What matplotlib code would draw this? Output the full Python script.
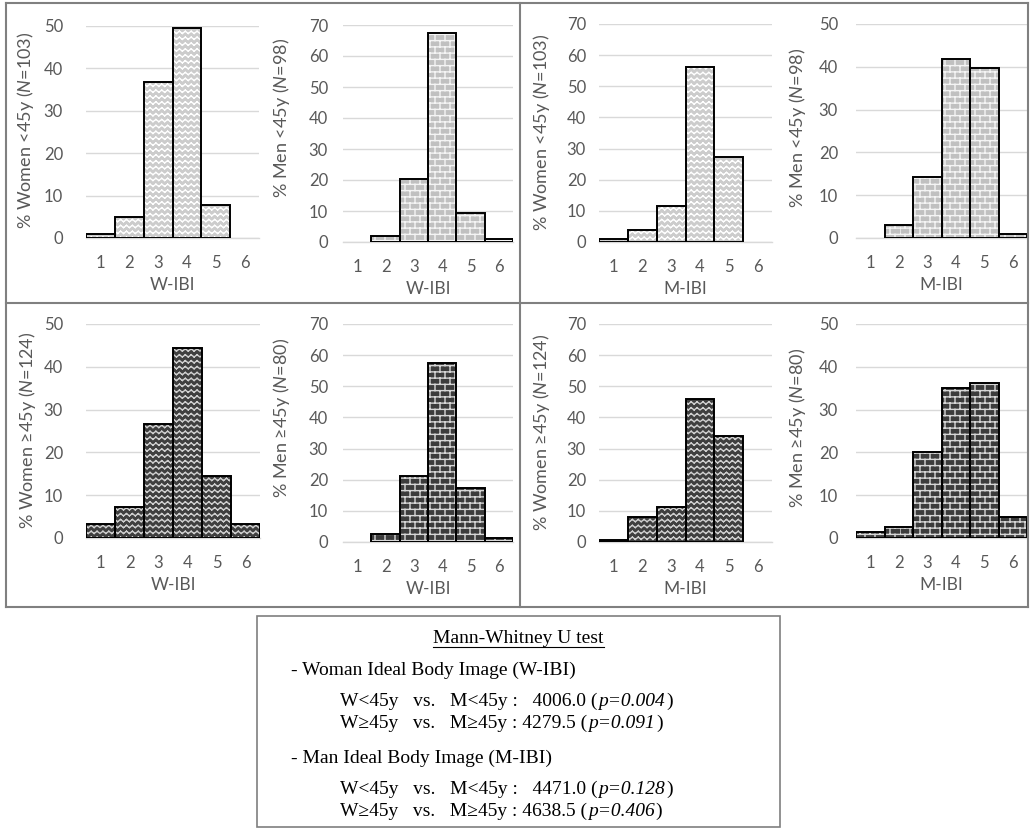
import numpy as np
import matplotlib
matplotlib.use("Agg")
import matplotlib.pyplot as plt
import matplotlib.hatch as mhatch
from matplotlib.path import Path
from matplotlib.lines import Line2D
from matplotlib.patches import Rectangle

W, H = 1030, 836

# percentages per ideal body image score (1..6)
categories = [1, 2, 3, 4, 5, 6]
w_young_wibi = [1.0, 4.9, 36.9, 49.5, 7.8, 0]
m_young_wibi = [0, 2.0, 20.4, 67.3, 9.2, 1.0]
w_young_mibi = [1.0, 3.9, 11.7, 56.3, 27.2, 0]
m_young_mibi = [0, 3.1, 14.3, 41.8, 39.8, 1.0]
w_old_wibi = [3.2, 7.3, 26.6, 44.4, 14.5, 3.2]
m_old_wibi = [0, 2.5, 21.3, 57.5, 17.5, 1.3]
w_old_mibi = [0.8, 8.1, 11.3, 46.0, 33.9, 0]
m_old_mibi = [1.3, 2.5, 20.0, 35.0, 36.3, 5.0]

ylabels = ["% Women <45y ($\\mathit{N}$=103)", "% Men <45y ($\\mathit{N}$=98)",
           "% Women <45y ($\\mathit{N}$=103)", "% Men <45y ($\\mathit{N}$=98)",
           "% Women \u226545y ($\\mathit{N}$=124)", "% Men \u226545y ($\\mathit{N}$=80)",
           "% Women \u226545y ($\\mathit{N}$=124)", "% Men \u226545y ($\\mathit{N}$=80)"]
xlabels = ["W-IBI", "W-IBI", "M-IBI", "M-IBI", "W-IBI", "W-IBI", "M-IBI", "M-IBI"]
ymaxes = [50, 70, 70, 50, 50, 70, 70, 50]

test_title = "Mann-Whitney U test"
test_lines = [
    ("- Woman Ideal Body Image (W-IBI)", None),
    ("W<45y   vs.   M<45y :   4006.0 (", "p=0.004"),
    ("W\u226545y   vs.   M\u226545y : 4279.5 (", "p=0.091"),
    ("- Man Ideal Body Image (M-IBI)", None),
    ("W<45y   vs.   M<45y :   4471.0 (", "p=0.128"),
    ("W\u226545y   vs.   M\u226545y : 4638.5 (", "p=0.406"),
]


# custom hatches: '*' -> wavy lines, 'o' -> bricks
class WaveHatch(mhatch.HatchPatternBase):
    rows = 17
    waves = 17

    def __init__(self, hatch, density):
        on = hatch.count('*') > 0
        self.num_vertices = self.rows * self.waves * 4 if on else 0

    def set_vertices_and_codes(self, vertices, codes):
        amp = 0.011
        k = 0
        for r in range(self.rows):
            y0 = (r + 0.5) / self.rows
            for w in range(self.waves):
                xa = w / self.waves
                xb = (w + 0.5) / self.waves
                xc = (w + 1) / self.waves
                for x1, y1, x2, y2 in [(xa, y0 - amp, xb, y0 + amp), (xb, y0 + amp, xc, y0 - amp)]:
                    vertices[k] = (x1, y1)
                    vertices[k + 1] = (x2, y2)
                    codes[k] = Path.MOVETO
                    codes[k + 1] = Path.LINETO
                    k += 2


class BrickHatch(mhatch.HatchPatternBase):
    rows = 16
    cols = 10

    def __init__(self, hatch, density):
        on = hatch.count('o') > 0
        self.num_vertices = (self.rows * 2 + (self.rows + 1) * self.cols * 2) if on else 0

    def set_vertices_and_codes(self, vertices, codes):
        k = 0
        step = 1.0 / self.rows
        for r in range(self.rows):
            y = (r + 0.5) * step
            vertices[k] = (0.0, y)
            vertices[k + 1] = (1.0, y)
            codes[k] = Path.MOVETO
            codes[k + 1] = Path.LINETO
            k += 2
        for r in range(-1, self.rows):
            y = (r + 0.5) * step
            for c in range(self.cols):
                x = (c + 0.5 * (r % 2)) / self.cols
                vertices[k] = (x, y)
                vertices[k + 1] = (x, y + step)
                codes[k] = Path.MOVETO
                codes[k + 1] = Path.LINETO
                k += 2


mhatch._hatch_types = [t for t in mhatch._hatch_types
                       if t not in (mhatch.Stars, mhatch.SmallCircles)] + [WaveHatch, BrickHatch]

plt.rcParams['font.family'] = ['Lato', 'DejaVu Sans']
plt.rcParams['mathtext.fontset'] = 'custom'
plt.rcParams['mathtext.rm'] = 'Lato'
plt.rcParams['mathtext.it'] = 'Lato:italic'
plt.rcParams['hatch.linewidth'] = 1.0

series = [w_young_wibi, m_young_wibi, w_young_mibi, m_young_mibi,
          w_old_wibi, m_old_wibi, w_old_mibi, m_old_mibi]

# pixel boxes of plot areas (left, top, right, bottom)
boxes = [(86, 26, 259, 238), (343, 25, 513, 242), (599, 24, 772, 242), (856, 24, 1027, 238),
         (86, 324, 260, 538), (343, 324, 513, 542), (599, 324, 772, 542), (856, 324, 1027, 538)]
ylab_x = [26, 282, 541, 797, 27, 282, 541, 797]
ylab_y = [130, 118, 132, 128, 430, 418, 432, 428]
ytick_gap = [23, 15, 13, 18, 23, 15, 13, 18]
# (fill, hatch colour, hatch)
looks = [("#cccccc", "white", "*"), ("#c0c0c0", "#f4f4f4", "o"),
         ("#cccccc", "white", "*"), ("#c0c0c0", "#f4f4f4", "o"),
         ("#3f3f3f", "#cfcfcf", "*"), ("#3c3c3c", "#d6d6d6", "o"),
         ("#3f3f3f", "#cfcfcf", "*"), ("#3c3c3c", "#d6d6d6", "o")]

fig = plt.figure(figsize=(W / 100, H / 100), dpi=100)

for i, vals in enumerate(series):
    l, t, r, b = boxes[i]
    ax = fig.add_axes([l / W, 1 - b / H, (r - l) / W, (b - t) / H])
    xs = [c for c, v in zip(categories, vals) if v > 0]
    vs = [v for v in vals if v > 0]
    fill, hcol, hatch = looks[i]
    ax.bar(xs, vs, width=1.0, color=fill, edgecolor=hcol, linewidth=0, hatch=hatch, zorder=2)
    ax.bar(xs, vs, width=1.0, fill=False, edgecolor="black", linewidth=1.4, zorder=3)
    ax.set_xlim(0.5, 6.5)
    ax.set_ylim(0, ymaxes[i])
    ax.set_xticks(categories)
    ax.set_xticklabels([str(c) for c in categories])
    ax.set_yticks(range(0, ymaxes[i] + 1, 10))
    ax.yaxis.grid(True, color="#d9d9d9", linewidth=1.0)
    ax.set_axisbelow(True)
    for s in ["top", "left", "right"]:
        ax.spines[s].set_visible(False)
    ax.spines["bottom"].set_color("#d9d9d9")
    ax.spines["bottom"].set_linewidth(1.0)
    ax.tick_params(axis="both", length=0, colors="#595959", labelsize=12)
    ax.tick_params(axis="x", pad=12)
    ax.tick_params(axis="y", pad=ytick_gap[i] * 0.72)
    ax.set_xlabel(xlabels[i], fontsize=12.5, color="#595959")
    ax.xaxis.label.set_va("center")
    ax.xaxis.set_label_coords(0.5, -47 / (b - t))
    ax.set_ylabel(ylabels[i], fontsize=13, color="#595959")
    ax.yaxis.label.set_va("center")
    ax.yaxis.set_label_coords((ylab_x[i] - l) / (r - l), (b - ylab_y[i]) / (b - t))

# frame of the panel grid
frame = dict(transform=fig.transFigure, color="#808080", linewidth=1.5)
for (x1, y1, x2, y2) in [(6, 3, 1028, 3), (6, 607, 1028, 607), (6, 303, 1028, 303),
                         (6, 3, 6, 607), (520, 3, 520, 607), (1028, 3, 1028, 607)]:
    fig.add_artist(Line2D([x1 / W, x2 / W], [1 - y1 / H, 1 - y2 / H], **frame))

# statistics box
fig.add_artist(Rectangle((257 / W, 1 - 827 / H), (780 - 257) / W, (827 - 616) / H,
                         transform=fig.transFigure, fill=False, edgecolor="#7f7f7f", linewidth=1.2))

serif = "Liberation Serif"
renderer = fig.canvas.get_renderer()
tt = fig.text(518.5 / W, 1 - 643 / H, test_title, ha="center", va="baseline",
              family=serif, fontsize=14)
bb = tt.get_window_extent(renderer)
fig.add_artist(Line2D([bb.x0 / W, bb.x1 / W], [1 - 647 / H, 1 - 647 / H],
                      transform=fig.transFigure, color="black", linewidth=0.8))

baselines = [675, 706, 728, 763, 794, 816]
for (txt, ital), yb in zip(test_lines, baselines):
    x = 291 if txt.startswith("-") else 340
    t1 = fig.text(x / W, 1 - yb / H, txt, ha="left", va="baseline", family=serif, fontsize=14)
    if ital:
        x += t1.get_window_extent(renderer).width + 1
        t2 = fig.text(x / W, 1 - yb / H, ital, ha="left", va="baseline", family=serif,
                      fontsize=14, style="italic")
        x += t2.get_window_extent(renderer).width + 1
        fig.text(x / W, 1 - yb / H, ")", ha="left", va="baseline", family=serif, fontsize=14)

fig.savefig("out.png", dpi=100)
